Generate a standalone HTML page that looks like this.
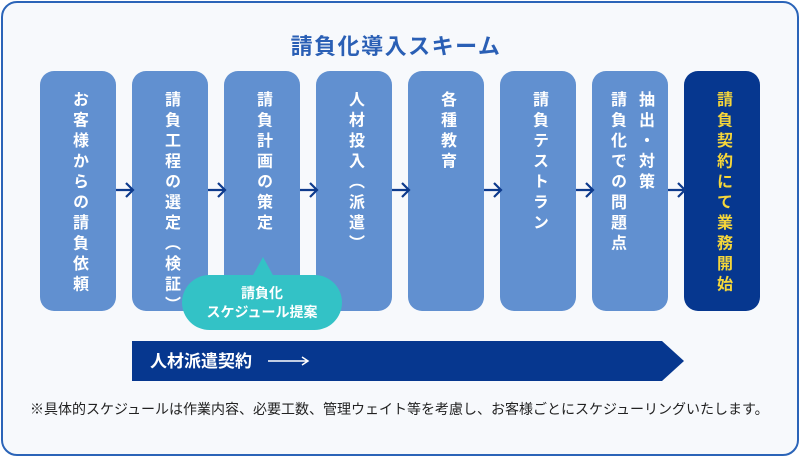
<!DOCTYPE html>
<html><head><meta charset="utf-8"><style>
body{margin:0;width:800px;height:456px;overflow:hidden;background:#fff;font-family:"Liberation Sans","Noto Sans CJK JP",sans-serif;}
.frame{position:absolute;left:1px;top:1px;width:794px;height:451px;border:2px solid #2b64b8;border-radius:16px;background:#f7f9fc;}
.title{position:absolute;top:29px;left:0;width:792px;text-align:center;font-size:22px;font-weight:bold;color:#2a5fb5;letter-spacing:1.5px;}
.box{position:absolute;top:71px;width:76px;height:240px;border-radius:14px;background:#6190d0;}
.box .t{position:absolute;top:20px;left:0;width:76px;display:flex;justify-content:center;}
.box .t span{writing-mode:vertical-rl;font-size:16px;font-weight:bold;color:#fff;letter-spacing:4.5px;line-height:22px;}
.bubble{position:absolute;left:182px;top:275px;width:160px;height:55px;border-radius:28px;background:#33c2c6;color:#fff;font-size:14px;font-weight:bold;text-align:center;line-height:19px;padding-top:9px;box-sizing:border-box;}
.note{position:absolute;left:30px;top:399px;font-size:14px;color:#222;white-space:nowrap;}
</style></head><body>
<div class="frame"></div>
<div class="title">請負化導入スキーム</div>
<div class="box" style="left:40px"><div class="t"><span>お客様からの請負依頼</span></div></div>
<div class="box" style="left:132px"><div class="t"><span>請負工程の選定（検証）</span></div></div>
<div class="box" style="left:224px"><div class="t"><span>請負計画の策定</span></div></div>
<div class="box" style="left:316px"><div class="t"><span>人材投入（派遣）</span></div></div>
<div class="box" style="left:408px"><div class="t"><span>各種教育</span></div></div>
<div class="box" style="left:500px"><div class="t"><span>請負テストラン</span></div></div>
<div class="box" style="left:592px"><div class="t"><span style="line-height:28px">抽出・対策<br>請負化での問題点</span></div></div>
<div class="box" style="left:684px;background:#06378f"><div class="t"><span style="color:#f5d63a">請負契約にて業務開始</span></div></div>
<svg width="800" height="456" style="position:absolute;left:0;top:0">
<g stroke="#0d3a8c" stroke-width="2.2" fill="none">
<path d="M116 190h16M126 183l7 7-7 7"/>
<path d="M208 190h16M218 183l7 7-7 7"/>
<path d="M300 190h16M310 183l7 7-7 7"/>
<path d="M392 190h16M402 183l7 7-7 7"/>
<path d="M484 190h16M494 183l7 7-7 7"/>
<path d="M576 190h16M586 183l7 7-7 7"/>
<path d="M668 190h16M678 183l7 7-7 7"/>
</g>
<polygon points="252,277 263,257 274,277" fill="#33c2c6"/>
<polygon points="132,341 662,341 684,361 662,381 132,381" fill="#06378f"/>
<text x="150" y="367" fill="#fff" font-size="17" font-weight="bold" font-family="Liberation Sans, Noto Sans CJK JP, sans-serif">人材派遣契約</text>
<path d="M268 361h40M302 357l6 4-6 4" stroke="#fff" stroke-width="1.5" fill="none"/>
</svg>
<div class="bubble">請負化<br>スケジュール提案</div>
<div class="note">※具体的スケジュールは作業内容、必要工数、管理ウェイト等を考慮し、お客様ごとにスケジューリングいたします。</div>
</body></html>
